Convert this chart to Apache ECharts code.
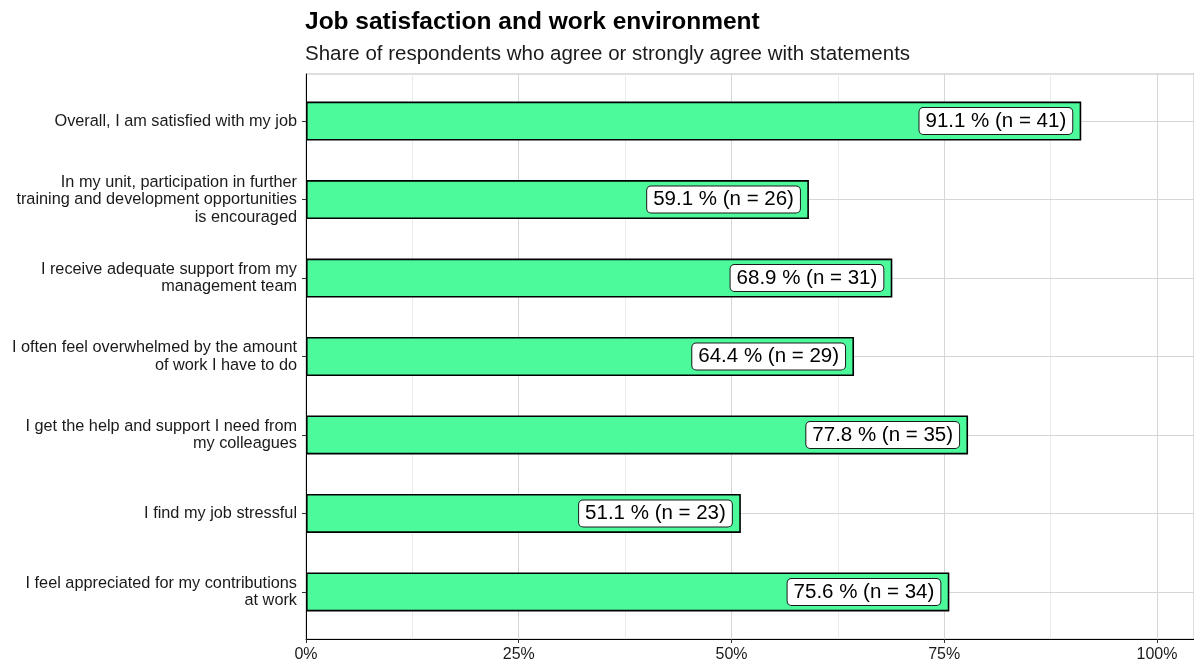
<!DOCTYPE html>
<html>
<head>
<meta charset="utf-8">
<script src="https://cdn.jsdelivr.net/npm/echarts@6/dist/echarts.min.js"></script>
<style>
  html, body { margin: 0; padding: 0; background: #ffffff; }
  #chart { width: 1194px; height: 664px; }
</style>
</head>
<body>
<div id="chart"></div>
<script>
// Survey statements, top to bottom
const statements = [
  'Overall, I am satisfied with my job',
  'In my unit, participation in further\ntraining and development opportunities\nis encouraged',
  'I receive adequate support from my\nmanagement team',
  'I often feel overwhelmed by the amount\nof work I have to do',
  'I get the help and support I need from\nmy colleagues',
  'I find my job stressful',
  'I feel appreciated for my contributions\nat work'
];
// Share agreeing (%) and number of respondents agreeing
const sharePct = [91.1, 59.1, 68.9, 64.4, 77.8, 51.1, 75.6];
const counts = [41, 26, 31, 29, 35, 23, 34];
const xTicks = [0, 25, 50, 75, 100];

const FONT = '"Liberation Sans", Arial, Helvetica, sans-serif';
// value axis runs past 100 % to the right edge of the panel
const X_MAX = 104.35;

// Panel geometry; the discrete axis is padded by 0.6 of a step on each side
const panelLeft = 306, panelRight = 0;
const panelTop = 74, panelBottom = 639;
const step = (panelBottom - panelTop) / (statements.length - 1 + 1.2);
const bandTop = panelTop + 0.1 * step;
const bandHeight = step * statements.length;

const chart = echarts.init(document.getElementById('chart'), null, { renderer: 'canvas' });

chart.setOption({
  backgroundColor: '#ffffff',
  animation: false,
  title: [
    {
      text: 'Job satisfaction and work environment',
      left: 305, top: 10, padding: 0,
      textStyle: { fontFamily: FONT, fontSize: 24.5, fontWeight: 'bold', color: '#000000' }
    },
    {
      text: 'Share of respondents who agree or strongly agree with statements',
      left: 305, top: 44, padding: 0,
      textStyle: { fontFamily: FONT, fontSize: 20.5, fontWeight: 'normal', color: '#1a1a1a' }
    }
  ],
  grid: [
    // panel with axes and vertical grid
    { left: panelLeft, right: panelRight, top: panelTop, height: panelBottom - panelTop,
      show: true, borderColor: '#bdbdbd', borderWidth: 1, backgroundColor: 'transparent' },
    // bars
    { left: panelLeft, right: panelRight, top: bandTop, height: bandHeight }
  ],
  xAxis: [
    {
      gridIndex: 0, type: 'value', min: 0, max: X_MAX, interval: 25,
      axisLine: { show: true, lineStyle: { color: '#000000', width: 1 } },
      axisTick: { show: true, length: 4, lineStyle: { color: '#333333' } },
      axisLabel: {
        show: true, margin: 8, fontFamily: FONT, fontSize: 16, color: '#1a1a1a',
        showMaxLabel: false,
        formatter: v => (xTicks.indexOf(v) >= 0 ? v + '%' : '')
      },
      splitLine: { show: true, lineStyle: { color: '#d6d6d6', width: 1 } },
      z: 3
    },
    {
      // minor vertical lines halfway between labelled ticks
      gridIndex: 0, type: 'value', min: 0, max: X_MAX, interval: 12.5,
      axisLine: { show: false }, axisTick: { show: false }, axisLabel: { show: false },
      splitLine: { show: true, lineStyle: { color: ['rgba(0,0,0,0)', '#ebebeb'], width: 1 } },
      z: 1
    },
    {
      gridIndex: 1, type: 'value', min: 0, max: X_MAX,
      axisLine: { show: false }, axisTick: { show: false }, axisLabel: { show: false },
      splitLine: { show: false }
    }
  ],
  yAxis: [
    {
      gridIndex: 0, type: 'value', min: 0, max: 1,
      axisLine: { show: true, onZero: false, lineStyle: { color: '#000000', width: 1 } },
      axisTick: { show: false }, axisLabel: { show: false }, splitLine: { show: false },
      z: 3
    },
    {
      gridIndex: 1, type: 'category', data: statements, inverse: true,
      axisLine: { show: false },
      axisTick: { show: true, alignWithLabel: true, length: 4, lineStyle: { color: '#333333' } },
      axisLabel: {
        fontFamily: FONT, fontSize: 16.3, color: '#1a1a1a', margin: 9,
        lineHeight: 17.5, align: 'right', padding: [4, 0, 0, 0]
      },
      splitLine: { show: false }
    }
  ],
  series: [
    {
      // horizontal grid lines through category centres
      type: 'line', xAxisIndex: 2, yAxisIndex: 1, data: [], z: 1,
      markLine: {
        silent: true, symbol: ['none', 'none'], z: 1,
        label: { show: false },
        lineStyle: { color: '#d6d6d6', width: 1, type: 'solid' },
        data: statements.map(s => ({ yAxis: s }))
      }
    },
    {
      type: 'bar', xAxisIndex: 2, yAxisIndex: 1, z: 4,
      barWidth: 39,
      data: sharePct,
      itemStyle: { color: '#4cf99b', borderColor: '#000000', borderWidth: 1.6 },
      label: {
        show: true, position: 'insideRight', distance: 9,
        formatter: p => p.value.toFixed(1) + ' % (n = ' + counts[p.dataIndex] + ')',
        fontFamily: FONT, fontSize: 20.5, color: '#000000',
        backgroundColor: '#ffffff', borderColor: '#1a1a1a', borderWidth: 1,
        borderRadius: 4, padding: [3, 6, 2, 6]
      }
    }
  ]
});
</script>
</body>
</html>
